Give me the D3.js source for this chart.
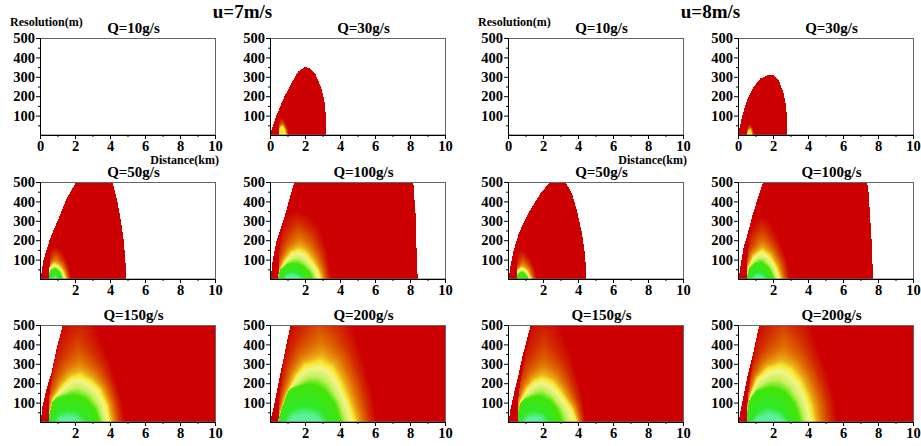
<!DOCTYPE html>
<html>
<head>
<meta charset="utf-8">
<script src="https://cdn.jsdelivr.net/npm/d3@7"></script>
<style>
  body { margin: 0; background: #fff; }
  svg { display: block; }
  svg text { font-family: "Liberation Serif", "Times New Roman", serif !important; font-weight: bold; fill: #000; }
</style>
</head>
<body>
<svg id="chart" width="921" height="446"></svg>
<script>
// ---- categories / tick labels ----
const windSpeeds = [7, 8];
const sourceRates = [10, 30, 50, 100, 150, 200];
const xMajorTicks = [0, 2, 4, 6, 8, 10];
const xMinorTicks = [1, 3, 5, 7, 9];
const yMajorTicks = [100, 200, 300, 400, 500];
const yMinorTicks = [50, 150, 250, 350, 450];

// contour levels: red limit, yellow, green, core
const archLevels = [0, 0.5, 0.8, 1];
const colorStops = [0, 0.15, 0.3, 0.42, 0.5, 0.56, 0.66, 0.76, 0.93, 1];
const colorValues = ["#cc0000", "#d22c00", "#de6a00", "#eaa818", "#f8ec30", "#f2f48c", "#c4f05c", "#44e404", "#30e828", "#5cf09c"];

// ---- u = 7 m/s : outer edge, left cut, contour arches  [distance km, resolution m] ----
const edge7_30 = [[0,0],[0.38,103],[0.82,198],[1.33,284],[1.62,328],[2.0,350],[2.29,345],[2.57,319],[2.9,250],[3.1,181],[3.18,112],[3.2,0]];
const cut7_30 = [[0.53,0],[0.55,100],[0.7,200],[1.0,300]];
const red7_30 = [[0.35,0],[0.5,80],[0.68,95],[0.85,75],[1.0,40],[1.1,0]];
const yellow7_30 = [[0.45,0],[0.6,40],[0.72,45],[0.85,25],[0.92,0]];

const edge7_50 = [[0.04,0],[0.19,95],[0.57,207],[1.05,310],[1.52,414],[2.06,500],[4.15,500],[4.42,400],[4.62,300],[4.78,200],[4.88,100],[4.91,0]];
const cut7_50 = [[0.53,0],[0.55,100],[0.65,200],[0.9,300],[1.2,400],[1.6,500]];
const red7_50 = [[0.3,0],[0.5,140],[0.86,175],[1.3,140],[1.6,80],[1.81,0]];
const yellow7_50 = [[0.4,0],[0.55,60],[0.8,80],[1.1,65],[1.35,35],[1.47,0]];
const green7_50 = [[0.45,0],[0.6,40],[0.85,50],[1.1,35],[1.25,0]];
const core7_50 = [[0.7,0],[0.85,10],[1.0,0]];

const edge7_100 = [[0.04,0],[0.15,95],[0.38,198],[0.76,300],[1.09,405],[1.39,500],[8.19,500],[8.23,440],[8.32,336],[8.38,129],[8.44,0]];
const cut7_100 = [[0.48,0],[0.5,95],[0.57,181],[0.76,280],[1.0,380],[1.4,500]];
const red7_100 = [[0.2,0],[0.5,250],[1.0,335],[1.55,355],[2.2,330],[2.86,267],[3.33,129],[3.5,0]];
const yellow7_100 = [[0.4,0],[0.57,45],[0.86,95],[1.2,135],[1.62,150],[2.0,135],[2.38,95],[2.76,43],[2.9,0]];
const green7_100 = [[0.45,0],[0.6,50],[1.0,72],[1.3,76],[1.8,60],[2.2,30],[2.35,0]];
const core7_100 = [[0.85,0],[1.0,14],[1.3,18],[1.5,12],[1.7,0]];

const edge7_150 = [[0.04,0],[0.15,86],[0.38,172],[0.67,259],[0.95,379],[1.2,465],[1.3,500],[10,500],[10,0]];
const cut7_150 = [[0.5,0],[0.52,120],[0.61,200],[0.8,300],[1.05,400],[1.35,500]];
const red7_150 = [[0.2,0],[0.4,250],[0.9,450],[1.5,540],[2.3,580],[2.9,550],[3.24,500],[3.6,400],[4.05,300],[4.38,200],[4.7,100],[4.86,0]];
const yellow7_150 = [[0.45,0],[0.57,52],[0.76,121],[1.33,190],[1.8,228],[2.29,238],[2.9,210],[3.43,164],[3.81,86],[4.0,0]];
const green7_150 = [[0.3,0],[0.5,88],[1.0,122],[1.8,130],[2.5,110],[3.0,66],[3.3,0]];
const core7_150 = [[1.05,0],[1.2,18],[1.6,24],[2.0,18],[2.25,0]];

const edge7_200 = [[0,0],[0.15,52],[0.38,155],[0.57,241],[0.76,319],[0.95,405],[1.18,500],[10,500],[10,0]];
const cut7_200 = [[0.48,0],[0.53,121],[0.63,207],[0.76,293],[0.99,397],[1.28,500]];
const red7_200 = [[0.3,0],[0.6,300],[1.2,560],[2.5,700],[3.8,650],[4.76,500],[5.05,400],[5.4,300],[5.7,200],[5.95,100],[6.1,0]];
const yellow7_200 = [[0.45,0],[0.67,70],[0.95,140],[1.52,241],[2.0,290],[2.86,310],[3.5,280],[4.0,207],[4.48,103],[4.86,0]];
const green7_200 = [[0.4,0],[0.6,118],[1.2,170],[2.2,184],[3.0,155],[3.6,88],[3.9,0]];
const core7_200 = [[1.05,0],[1.3,28],[2.0,36],[2.6,26],[2.9,0]];

// ---- u = 8 m/s ----
const edge8_30 = [[0,0],[0.23,95],[0.51,180],[0.9,249],[1.28,291],[1.75,312],[2.04,308],[2.32,283],[2.61,214],[2.76,146],[2.82,0]];
const cut8_30 = [[0.51,0],[0.53,100],[0.7,200]];
const red8_30 = [[0.4,0],[0.55,50],[0.72,60],[0.85,35],[0.95,0]];
const yellow8_30 = [[0.5,0],[0.62,25],[0.72,28],[0.8,0]];

const edge8_50 = [[0.04,0],[0.13,60],[0.32,147],[0.61,233],[0.99,310],[1.37,371],[1.85,440],[2.32,491],[2.51,500],[3.28,500],[3.66,440],[3.94,353],[4.23,233],[4.42,112],[4.46,0]];
const cut8_50 = [[0.51,0],[0.53,100],[0.65,200],[0.85,300],[1.1,400],[1.45,500]];
const red8_50 = [[0.3,0],[0.5,130],[0.8,155],[1.2,120],[1.5,60],[1.66,0]];
const yellow8_50 = [[0.4,0],[0.55,45],[0.8,60],[1.1,40],[1.31,0]];
const green8_50 = [[0.45,0],[0.6,25],[0.85,32],[1.05,15],[1.12,0]];

const edge8_100 = [[0.04,0],[0.13,60],[0.32,164],[0.55,233],[0.8,319],[1.09,405],[1.43,500],[7.37,500],[7.47,440],[7.56,302],[7.66,164],[7.71,0]];
const cut8_100 = [[0.51,0],[0.53,100],[0.65,200],[0.85,300],[1.1,400],[1.45,500]];
const red8_100 = [[0.2,0],[0.5,230],[0.9,300],[1.37,328],[1.9,290],[2.32,216],[2.8,95],[2.99,0]];
const yellow8_100 = [[0.45,0],[0.6,60],[0.9,120],[1.37,147],[1.8,120],[2.2,60],[2.42,0]];
const green8_100 = [[0.5,0],[0.65,55],[1.0,76],[1.3,78],[1.7,52],[1.98,0]];
const core8_100 = [[0.9,0],[1.0,12],[1.2,15],[1.4,10],[1.5,0]];

const edge8_150 = [[0.04,0],[0.13,60],[0.32,138],[0.55,224],[0.8,328],[1.09,431],[1.3,500],[10,500],[10,0]];
const cut8_150 = [[0.55,0],[0.59,121],[0.7,207],[0.9,293],[1.09,379],[1.37,491]];
const red8_150 = [[0.2,0],[0.5,300],[1.0,480],[1.9,560],[2.6,540],[2.99,500],[3.37,400],[3.75,300],[4.04,200],[4.3,100],[4.42,0]];
const yellow8_150 = [[0.45,0],[0.6,60],[0.7,103],[1.09,172],[1.5,210],[1.94,224],[2.5,205],[2.99,155],[3.4,100],[3.66,69],[3.94,0]];
const green8_150 = [[0.45,0],[0.6,88],[1.0,116],[1.66,124],[2.3,102],[2.7,58],[2.92,0]];
const core8_150 = [[0.95,0],[1.1,18],[1.5,24],[1.85,18],[2.05,0]];

const edge8_200 = [[0.04,0],[0.13,52],[0.32,138],[0.51,224],[0.8,328],[1.05,431],[1.22,500],[10,500],[10,0]];
const cut8_200 = [[0.51,0],[0.55,121],[0.67,207],[0.82,293],[1.01,397],[1.28,500]];
const red8_200 = [[0.3,0],[0.6,300],[1.2,560],[2.3,680],[3.5,620],[4.23,500],[4.51,400],[4.9,300],[5.28,200],[5.55,100],[5.66,0]];
const yellow8_200 = [[0.45,0],[0.55,69],[0.7,138],[1.09,224],[1.7,275],[2.42,293],[3.0,270],[3.56,207],[3.9,140],[4.13,86],[4.32,0]];
const green8_200 = [[0.45,0],[0.6,108],[1.1,156],[1.85,165],[2.6,140],[3.1,86],[3.42,0]];
const core8_200 = [[0.95,0],[1.2,26],[1.8,34],[2.3,26],[2.6,0]];

// lookup of each panel's field geometry
const fields = {
  "7-10": null,
  "7-30": { edge: edge7_30, cut: cut7_30, arches: [red7_30, yellow7_30] },
  "7-50": { edge: edge7_50, cut: cut7_50, arches: [red7_50, yellow7_50, green7_50, core7_50] },
  "7-100": { edge: edge7_100, cut: cut7_100, arches: [red7_100, yellow7_100, green7_100, core7_100] },
  "7-150": { edge: edge7_150, cut: cut7_150, arches: [red7_150, yellow7_150, green7_150, core7_150] },
  "7-200": { edge: edge7_200, cut: cut7_200, arches: [red7_200, yellow7_200, green7_200, core7_200] },
  "8-10": null,
  "8-30": { edge: edge8_30, cut: cut8_30, arches: [red8_30, yellow8_30] },
  "8-50": { edge: edge8_50, cut: cut8_50, arches: [red8_50, yellow8_50, green8_50] },
  "8-100": { edge: edge8_100, cut: cut8_100, arches: [red8_100, yellow8_100, green8_100, core8_100] },
  "8-150": { edge: edge8_150, cut: cut8_150, arches: [red8_150, yellow8_150, green8_150, core8_150] },
  "8-200": { edge: edge8_200, cut: cut8_200, arches: [red8_200, yellow8_200, green8_200, core8_200] }
};

// ---- layout ----
const FONT = '"Liberation Serif", "Times New Roman", serif';
const svg = d3.select("#chart");
const PW = 175, PH = 97;
const groupLeft = [[40, 270], [508, 738]];
const rowTop = [38, 182, 325];

const x = d3.scaleLinear().domain([0, 10]).range([0, PW]);
const y = d3.scaleLinear().domain([0, 500]).range([PH, 0]);

const colorScale = d3.scaleLinear().domain(colorStops).range(colorValues).interpolate(d3.interpolateRgb).clamp(true);
const lut = d3.range(256).map(i => d3.rgb(colorScale(i / 255)));

function toPx(pts) { return pts.map(d => [x(d[0]), y(d[1])]); }

function distToPolyline(p, pts) {
  let best = Infinity;
  for (let i = 0; i < pts.length - 1; i++) {
    const a = pts[i], b = pts[i + 1];
    const dx = b[0] - a[0], dy = b[1] - a[1];
    const L = dx * dx + dy * dy;
    let t = L ? ((p[0] - a[0]) * dx + (p[1] - a[1]) * dy) / L : 0;
    t = Math.max(0, Math.min(1, t));
    const ex = a[0] + t * dx - p[0], ey = a[1] + t * dy - p[1];
    const d = ex * ex + ey * ey;
    if (d < best) best = d;
  }
  return Math.sqrt(best);
}

function cutAt(cutPts, py) {
  // cut points run from the bottom (large py) to the top (small py)
  if (py >= cutPts[0][1]) return cutPts[0][0];
  for (let i = 0; i < cutPts.length - 1; i++) {
    const a = cutPts[i], b = cutPts[i + 1];
    if (py <= a[1] && py >= b[1]) {
      const t = (a[1] - py) / (a[1] - b[1]);
      return a[0] + t * (b[0] - a[0]);
    }
  }
  const n = cutPts.length;
  const a = cutPts[n - 2], b = cutPts[n - 1];
  const t = (a[1] - py) / (a[1] - b[1]);
  return a[0] + t * (b[0] - a[0]);
}

function renderField(f) {
  const canvas = document.createElement("canvas");
  canvas.width = PW; canvas.height = PH;
  const ctx = canvas.getContext("2d");
  const img = ctx.createImageData(PW, PH);
  const edge = toPx(f.edge);
  const cut = toPx(f.cut);
  const arches = f.arches.map(toPx);
  for (let j = 0; j < PH; j++) {
    for (let i = 0; i < PW; i++) {
      const p = [i + 0.5, j + 0.5];
      if (!d3.polygonContains(edge, p)) continue;
      let v = 0;
      if (p[0] >= cutAt(cut, p[1])) {
        let k = -1;
        for (let m = 0; m < arches.length; m++) {
          if (d3.polygonContains(arches[m], p)) k = m; else break;
        }
        if (k >= 0) {
          if (k === arches.length - 1) v = archLevels[k];
          else {
            const d0 = distToPolyline(p, arches[k]);
            const d1 = distToPolyline(p, arches[k + 1]);
            v = archLevels[k] + (archLevels[k + 1] - archLevels[k]) * d0 / (d0 + d1);
          }
        }
      }
      const c = lut[Math.round(Math.max(0, Math.min(1, v)) * 255)];
      const o = (j * PW + i) * 4;
      img.data[o] = c.r; img.data[o + 1] = c.g; img.data[o + 2] = c.b; img.data[o + 3] = 255;
    }
  }
  ctx.putImageData(img, 0, 0);
  return canvas.toDataURL();
}

function styleAxis(a) {
  a.attr("font-family", FONT).attr("font-size", null);
  a.selectAll("text").style("font-size", "14.5px").style("font-family", FONT).style("font-weight", "bold");
  a.select(".domain").attr("stroke", "#000");
  a.selectAll(".tick line").attr("stroke", "#000");
}

windSpeeds.forEach((u, gi) => {
  const lefts = groupLeft[gi];
  const centre = (lefts[0] + lefts[1] + PW) / 2;
  svg.append("text").attr("x", centre).attr("y", 18)
    .attr("text-anchor", "middle").style("font-size", "19px").text(`u=${u}m/s`);

  sourceRates.forEach((q, qi) => {
    const col = qi % 2, row = Math.floor(qi / 2);
    const left = lefts[col], top = rowTop[row];
    const g = svg.append("g").attr("transform", `translate(${left},${top})`);

    const f = fields[`${u}-${q}`];
    if (f) {
      g.append("image").attr("x", 0).attr("y", 0).attr("width", PW).attr("height", PH)
        .attr("preserveAspectRatio", "none").style("image-rendering", "pixelated")
        .attr("href", renderField(f));
    }

    g.append("rect").attr("x", 0.5).attr("y", 0.5).attr("width", PW).attr("height", PH - 0.5)
      .attr("fill", "none").attr("stroke", "#666").attr("stroke-width", 1);

    // y axis: minor then labelled major ticks
    g.append("g").call(d3.axisLeft(y).tickValues(yMinorTicks).tickSize(2).tickSizeOuter(0).tickFormat("")).call(styleAxis);
    g.append("g").call(d3.axisLeft(y).tickValues(yMajorTicks).tickSize(4).tickSizeOuter(0).tickPadding(1)).call(styleAxis);

    // x axis
    const xt = row === 0 ? xMajorTicks : xMajorTicks.filter(d => d !== 0);
    const xg = g.append("g").attr("transform", `translate(0,${PH})`);
    xg.append("g").call(d3.axisBottom(x).tickValues(xMinorTicks).tickSize(2).tickSizeOuter(0).tickFormat("")).call(styleAxis);
    xg.append("g").call(d3.axisBottom(x).tickValues(xt).tickSize(4).tickSizeOuter(0).tickPadding(2)).call(styleAxis);

    g.append("text").attr("x", PW / 2 + 6).attr("y", -5)
      .attr("text-anchor", "middle").style("font-size", "15px").text(`Q=${q}g/s`);

    if (qi === 0) {
      g.append("text").attr("x", -30).attr("y", -12.5).style("font-size", "12px").text("Resolution(m)");
      g.append("text").attr("x", PW + 4).attr("y", PH + 29).attr("text-anchor", "end")
        .style("font-size", "12px").text("Distance(km)");
    }
  });
});
</script>
</body>
</html>
